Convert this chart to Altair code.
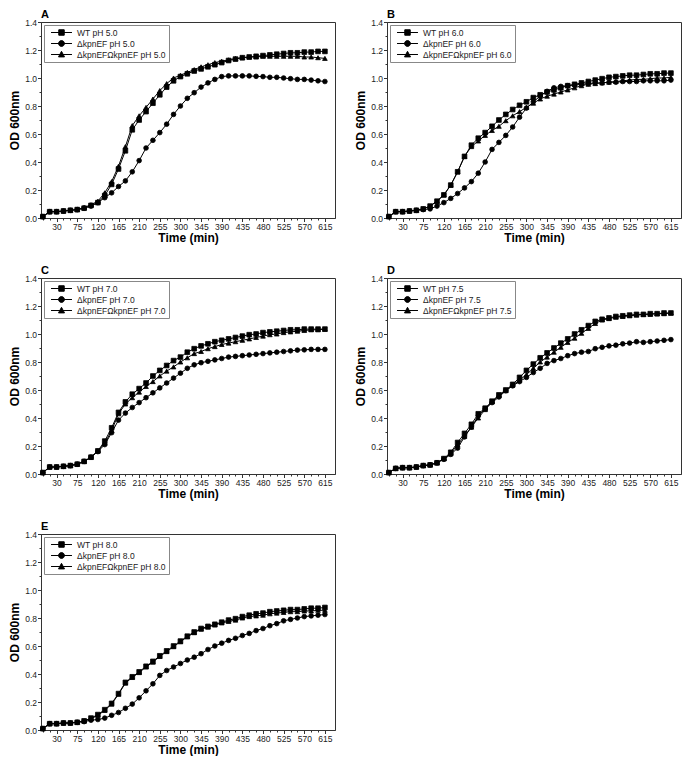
import altair as alt
import pandas as pd

TIME_MIN = [0, 15, 30, 45, 60, 75, 90, 105, 120, 135, 150, 165, 180, 195, 210,
            225, 240, 255, 270, 285, 300, 315, 330, 345, 360, 375, 390, 405,
            420, 435, 450, 465, 480, 495, 510, 525, 540, 555, 570, 585, 600, 615]
X_LABELED = [30, 75, 120, 165, 210, 255, 300, 345, 390, 435, 480, 525, 570, 615]
Y_TICKS = [0, 0.1, 0.2, 0.3, 0.4, 0.5, 0.6, 0.7, 0.8, 0.9, 1.0, 1.1, 1.2, 1.3, 1.4]
Y_LABELED = [0, 0.2, 0.4, 0.6, 0.8, 1.0, 1.2, 1.4]

PANEL_LETTERS = ["A", "B", "C", "D", "E"]
PH_LEVELS = ["5.0", "6.0", "7.0", "7.5", "8.0"]
STRAINS = ["WT", "\u0394kpnEF", "\u0394kpnEF\u03a9kpnEF"]
MARKERS = ["sq", "ci", "tr"]

A_WT = [0.01, 0.045, 0.045, 0.05, 0.055, 0.06, 0.07, 0.09, 0.11, 0.16, 0.24, 0.35, 0.48, 0.63, 0.70,
        0.76, 0.82, 0.88, 0.935, 0.98, 1.01, 1.03, 1.05, 1.065, 1.08, 1.095, 1.11, 1.125, 1.135,
        1.145, 1.15, 1.155, 1.16, 1.165, 1.17, 1.175, 1.18, 1.18, 1.185, 1.185, 1.19, 1.19]
A_KO = [0.01, 0.045, 0.045, 0.05, 0.055, 0.06, 0.07, 0.085, 0.11, 0.145, 0.18, 0.225, 0.265, 0.33,
        0.41, 0.50, 0.555, 0.61, 0.67, 0.74, 0.80, 0.855, 0.895, 0.935, 0.965, 0.99, 1.01, 1.015,
        1.015, 1.015, 1.015, 1.012, 1.01, 1.005, 1.005, 1.0, 0.995, 0.99, 0.99, 0.985, 0.98, 0.975]
A_CO = [0.01, 0.045, 0.045, 0.05, 0.055, 0.06, 0.075, 0.095, 0.12, 0.18, 0.26, 0.37, 0.51, 0.66,
        0.73, 0.79, 0.85, 0.91, 0.96, 1.0, 1.02, 1.04, 1.06, 1.08, 1.095, 1.11, 1.12, 1.13, 1.14,
        1.145, 1.15, 1.15, 1.155, 1.155, 1.155, 1.155, 1.155, 1.155, 1.15, 1.15, 1.145, 1.14]

B_WT = [0.01, 0.045, 0.045, 0.05, 0.055, 0.065, 0.085, 0.12, 0.165, 0.235, 0.33, 0.44, 0.52, 0.57,
        0.61, 0.655, 0.70, 0.74, 0.775, 0.805, 0.83, 0.86, 0.88, 0.90, 0.915, 0.93, 0.945, 0.955,
        0.965, 0.975, 0.985, 0.995, 1.005, 1.01, 1.015, 1.02, 1.02, 1.025, 1.03, 1.03, 1.035, 1.035]
B_KO = [0.01, 0.045, 0.045, 0.05, 0.055, 0.06, 0.065, 0.085, 0.11, 0.14, 0.175, 0.215, 0.26, 0.32,
        0.40, 0.49, 0.54, 0.59, 0.65, 0.72, 0.785, 0.83, 0.87, 0.905, 0.93, 0.94, 0.945, 0.95,
        0.955, 0.96, 0.965, 0.965, 0.97, 0.97, 0.975, 0.975, 0.975, 0.98, 0.98, 0.98, 0.98, 0.985]
B_CO = [0.01, 0.045, 0.045, 0.05, 0.055, 0.065, 0.085, 0.12, 0.165, 0.235, 0.33, 0.44, 0.51, 0.55,
        0.59, 0.625, 0.655, 0.695, 0.73, 0.76, 0.79, 0.82, 0.85, 0.87, 0.885, 0.90, 0.915, 0.93,
        0.945, 0.955, 0.96, 0.965, 0.97, 0.975, 0.98, 0.985, 0.99, 0.99, 0.995, 1.0, 1.0, 1.005]

C_WT = [0.01, 0.05, 0.05, 0.055, 0.06, 0.07, 0.09, 0.12, 0.165, 0.235, 0.33, 0.44, 0.515, 0.57,
        0.61, 0.65, 0.70, 0.74, 0.775, 0.81, 0.835, 0.87, 0.895, 0.915, 0.93, 0.945, 0.955, 0.965,
        0.975, 0.985, 0.995, 1.0, 1.01, 1.015, 1.02, 1.025, 1.03, 1.03, 1.035, 1.035, 1.035, 1.035]
C_KO = [0.01, 0.05, 0.05, 0.055, 0.06, 0.07, 0.09, 0.12, 0.16, 0.21, 0.295, 0.385, 0.435, 0.475,
        0.51, 0.545, 0.58, 0.615, 0.65, 0.685, 0.72, 0.755, 0.78, 0.795, 0.805, 0.815, 0.825, 0.835,
        0.84, 0.845, 0.85, 0.855, 0.86, 0.865, 0.87, 0.875, 0.88, 0.885, 0.887, 0.89, 0.89, 0.89]
C_CO = [0.01, 0.05, 0.05, 0.055, 0.06, 0.07, 0.09, 0.12, 0.165, 0.22, 0.31, 0.43, 0.50, 0.545,
        0.585, 0.625, 0.66, 0.70, 0.735, 0.765, 0.80, 0.83, 0.86, 0.875, 0.895, 0.91, 0.925, 0.935,
        0.945, 0.955, 0.965, 0.975, 0.985, 0.995, 1.0, 1.01, 1.015, 1.02, 1.025, 1.03, 1.03, 1.035]

D_WT = [0.01, 0.04, 0.045, 0.045, 0.05, 0.06, 0.065, 0.08, 0.11, 0.155, 0.225, 0.29, 0.355, 0.43,
        0.47, 0.52, 0.565, 0.60, 0.64, 0.69, 0.74, 0.785, 0.83, 0.865, 0.90, 0.935, 0.965, 1.0,
        1.03, 1.06, 1.09, 1.105, 1.115, 1.125, 1.13, 1.135, 1.14, 1.14, 1.145, 1.145, 1.15, 1.15]
D_KO = [0.01, 0.04, 0.045, 0.045, 0.05, 0.06, 0.065, 0.08, 0.105, 0.14, 0.185, 0.265, 0.335, 0.415,
        0.465, 0.51, 0.55, 0.595, 0.63, 0.66, 0.69, 0.725, 0.755, 0.79, 0.81, 0.825, 0.845, 0.86,
        0.87, 0.875, 0.895, 0.905, 0.915, 0.92, 0.93, 0.935, 0.945, 0.94, 0.945, 0.95, 0.955, 0.96]
D_CO = [0.01, 0.04, 0.045, 0.045, 0.05, 0.06, 0.065, 0.08, 0.11, 0.145, 0.21, 0.27, 0.335, 0.40,
        0.46, 0.515, 0.56, 0.595, 0.635, 0.67, 0.71, 0.755, 0.80, 0.835, 0.87, 0.905, 0.94, 0.97,
        1.005, 1.04, 1.075, 1.10, 1.11, 1.12, 1.125, 1.13, 1.135, 1.14, 1.14, 1.145, 1.145, 1.15]

E_WT = [0.01, 0.045, 0.045, 0.05, 0.05, 0.055, 0.065, 0.085, 0.11, 0.145, 0.19, 0.26, 0.34, 0.38,
        0.415, 0.455, 0.49, 0.53, 0.565, 0.60, 0.635, 0.67, 0.70, 0.725, 0.74, 0.755, 0.77, 0.785,
        0.795, 0.81, 0.82, 0.83, 0.835, 0.845, 0.85, 0.855, 0.86, 0.86, 0.865, 0.87, 0.87, 0.875]
E_KO = [0.01, 0.045, 0.045, 0.05, 0.05, 0.055, 0.06, 0.07, 0.075, 0.085, 0.105, 0.125, 0.155, 0.185,
        0.23, 0.28, 0.33, 0.39, 0.425, 0.45, 0.475, 0.50, 0.52, 0.545, 0.575, 0.60, 0.62, 0.64,
        0.655, 0.675, 0.69, 0.71, 0.725, 0.745, 0.76, 0.78, 0.79, 0.80, 0.81, 0.815, 0.82, 0.825]
E_CO = [0.01, 0.045, 0.045, 0.05, 0.05, 0.055, 0.065, 0.08, 0.105, 0.14, 0.185, 0.255, 0.335, 0.375,
        0.41, 0.45, 0.485, 0.525, 0.56, 0.595, 0.63, 0.665, 0.695, 0.72, 0.735, 0.75, 0.765, 0.775,
        0.785, 0.80, 0.81, 0.815, 0.82, 0.83, 0.835, 0.84, 0.845, 0.845, 0.85, 0.85, 0.855, 0.855]

PANEL_DATA = [(A_WT, A_KO, A_CO), (B_WT, B_KO, B_CO), (C_WT, C_KO, C_CO),
              (D_WT, D_KO, D_CO), (E_WT, E_KO, E_CO)]

FONT = "Liberation Sans"
W, H = 294, 196

# legend symbols: a line segment with the marker on it
SYM_SQ = "M-0.12,0H5.12M1.82,-0.68H3.18V0.68H1.82Z"
SYM_CI = "M-0.12,0H5.12M3.23,0A0.73,0.73,0,1,1,1.77,0A0.73,0.73,0,1,1,3.23,0Z"
SYM_TR = "M-0.12,0H5.12M2.5,-0.8L3.25,0.6H1.75Z"
SHAPE_EXPR = (f"indexof(datum.value, 'WT') == 0 ? '{SYM_SQ}' : "
              f"(indexof(datum.value, '\u03a9') > 0 ? '{SYM_TR}' : '{SYM_CI}')")

x_major = "indexof(" + str(X_LABELED) + ", datum.value) >= 0"
y_major = "indexof(" + str(Y_LABELED) + ", datum.value) >= 0"


def make_panel(letter, ph, series):
    names = [f"{s} pH {ph}" for s in STRAINS]
    rows = []
    for name, mk, vals in zip(names, MARKERS, series):
        for t, v in zip(TIME_MIN, vals):
            rows.append({"time": t, "od": v, "series": name, "marker": mk})
    df = pd.DataFrame(rows)

    x = alt.X("time:Q", title="Time (min)",
              scale=alt.Scale(domain=[-4, 637], nice=False, zero=False),
              axis=alt.Axis(values=TIME_MIN, labelExpr=f"{x_major} ? datum.label : ''",
                            tickSize={"condition": {"test": x_major, "value": 3.5}, "value": 2},
                            labelPadding=0.5, titlePadding=1.5, labelFlush=False))
    y = alt.Y("od:Q", title="OD 600nm",
              scale=alt.Scale(domain=[0, 1.4], nice=False),
              axis=alt.Axis(values=Y_TICKS, format=".1f",
                            labelExpr=f"{y_major} ? datum.label : ''",
                            tickSize={"condition": {"test": y_major, "value": 3.5}, "value": 2},
                            labelPadding=1, titlePadding=3))
    base = alt.Chart(df)
    lines = base.mark_line(color="black", strokeWidth=1).encode(x=x, y=y, detail="series:N")
    pts = base.mark_point(filled=True, color="black", opacity=1, size=22, strokeWidth=0.8).encode(
        x=x, y=y,
        shape=alt.Shape("marker:N",
                        scale=alt.Scale(domain=MARKERS, range=["square", "circle", "triangle-up"]),
                        legend=None),
        stroke=alt.Stroke("series:N", sort=names,
                          scale=alt.Scale(domain=names, range=["black", "black", "black"]),
                          legend=alt.Legend(
                              title=None, orient="top-left", offset=3, padding=3, rowPadding=0,
                              strokeColor="#888", fillColor="white", labelFont=FONT,
                              labelFontSize=8.5, labelColor="#222", labelOffset=21,
                              symbolSize=64, symbolStrokeWidth=1, symbolFillColor="black",
                              symbolType={"expr": SHAPE_EXPR})))
    return alt.layer(lines, pts).properties(
        width=W, height=H,
        title=alt.TitleParams(letter, anchor="start", frame="group", fontSize=11,
                              fontWeight="bold", font=FONT, offset=-2, color="black"))


panels = [make_panel(l, p, s) for l, p, s in zip(PANEL_LETTERS, PH_LEVELS, PANEL_DATA)]

chart = alt.concat(*panels, columns=2, spacing={"row": 20, "column": 18}).resolve_scale(
    stroke="independent"
).resolve_legend(
    stroke="independent"
).properties(
    padding=0, background="white"
).configure_view(stroke="#333", strokeWidth=1).configure_axis(
    grid=False, domainColor="#333", tickColor="#333", labelColor="#222",
    labelFont=FONT, labelFontSize=8.5, titleFont=FONT, titleFontSize=12,
    titleFontWeight="bold", titleColor="black"
)

chart.save("out.html", embed_options={"renderer": "svg", "actions": False})
